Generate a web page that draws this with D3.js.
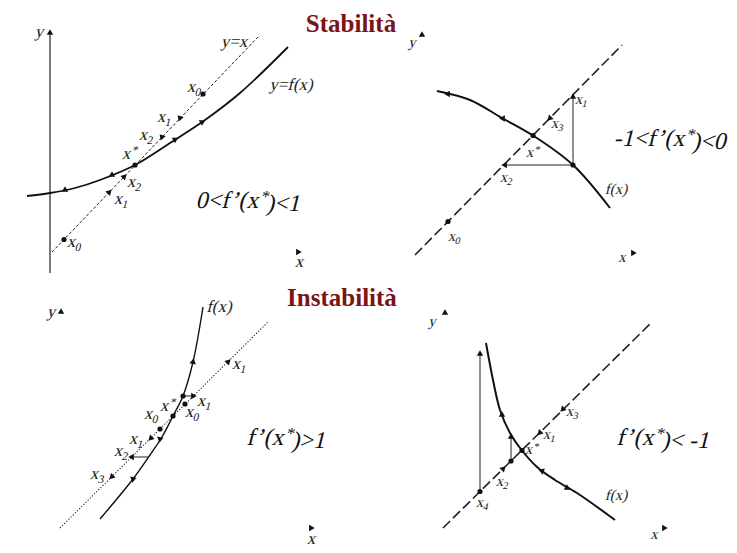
<!DOCTYPE html>
<html>
<head>
<meta charset="utf-8">
<script src="https://cdn.jsdelivr.net/npm/d3@7"></script>
<style>
  body { margin: 0; background: #fff; }
  text { font-family: "Liberation Serif", "Times New Roman", serif; }
</style>
</head>
<body>
<div class="canva"></div>
<script>
// panel data, units of 10px, v grows upward
// label rows: [u, v, text, sub, sup, tail]

// --- Stabilita, 0<f'<1 ---
const p1Curve = [[-2.3,6.6],[0,6.9],[2.5,7.4],[5,8.2],[8.5,9.7],[12,11.9],[15.5,14.2],[19,16.9],[23.8,21.5]];
const p1Diag = [[0.2,1.0],[20.8,22.5]];
const p1Axis = [[0,-1.1],[0,22.9]];
const p1Segs = [];
const p1Dots = [[8.5,9.7],[15.3,16.8],[1.4,2.25]];
const p1Arrows = [[13,14.4,250],[11.2,12.5,250],[15.2,14.0,270],[12.5,12.25,270],[5.9,6.95,46],[7.4,8.5,46],[1.5,7.2,90],[6.2,8.7,90],[0,22.9,90],[24.8,1.0,0]];
const p1Labels = [[18.5,21.9,"y=x"],[24.2,17.6,"y=f(x)"],[14.5,17.4,"x","0"],[11.5,14.4,"x","1"],[9.7,12.6,"x","2"],
  [8.0,10.7,"x","","*"],[8.5,7.9,"x","2"],[7.2,6.2,"x","1"],[2.5,1.9,"x","0"],[-1,22.9,"y"],[25,-0.1,"x"]];
const p1Formula = [20,6.2,"0<f’(x","","*",")<1"];

// --- Stabilita, -1<f'<0 ---
const p2Curve = [[2.7,17.1],[6,16.2],[9.2,14.4],[12.3,12.65],[16.3,9.7],[20,5.4]];
const p2Diag = [[0.5,0.7],[21.2,21.7]];
const p2Segs = [[[16.3,16.7],[16.3,9.7]],[[16.3,9.7],[9.4,9.7]]];
const p2Dots = [[12.3,12.65],[16.3,9.7],[3.8,4.05]];
const p2Arrows = [[16.3,16.5,90],[9.5,9.7,180],[14,14.4,225],[3.8,16.8,300],[9.3,14.35,300],[1.2,22.7,90],[22.3,0.9,0]];
const p2Labels = [[17.2,16.2,"x","1"],[14.8,13.8,"x","3"],[12.3,10.9,"x","","*"],[9.7,8.4,"x","2"],[4.5,2.5,"x","0"],
  [20.7,7.2,"f(x)"],[0.3,21.9,"y"],[21.3,0.4,"x"]];
const p2Formula = [26.2,12.4,"-1<f’(x","","*",")<0"];

// --- Instabilita, f'>1 ---
const p3Curve = [[5,2.1],[8.3,6.1],[10,8.5],[11.2,10.3],[12.3,12.4],[13.3,14.4],[14.3,17.8],[15.3,23.3]];
const p3Diag = [[1,1.2],[21.8,21.8]];
const p3Segs = [[[13.3,14.4],[14.3,14.4]],[[8.2,8.3],[9.9,8.3]]];
const p3Dots = [[12.3,12.4],[13.5,13.6],[11,11.1],[13.3,14.4]];
const p3Arrows = [[14.3,14.4,0],[17.8,17.8,45],[14.3,17.8,80],[11,10.1,260],[10.1,10.2,225],[6.2,6.35,225],[8.3,6.1,260],[8.2,8.3,180],[1.1,22.8,90],[26.1,1.2,0]];
const p3Labels = [[17,23.2,"f(x)"],[19,17.5,"x","1"],[15.5,13.8,"x","1"],[14.3,12.7,"x","0"],[11.8,13.3,"x","","*"],
  [10.2,12.5,"x","0"],[8.7,10,"x","1"],[7.2,8.8,"x","2"],[4.8,6.5,"x","3"],[0.2,22.7,"y"],[26.2,0,"x"]];
const p3Formula = [23.8,10.3,"f’(x","","*",")>1"];

// --- Instabilita, f'<-1 ---
const p4Curve = [[5.6,19.2],[6.3,15.5],[7,12.5],[8,10.2],[9.2,8.45],[10.7,6.8],[12.5,5.5],[14.7,4.2],[18.5,1.5]];
const p4Diag = [[1.3,0.7],[22.2,21.3]];
const p4Segs = [[[5,4.35],[5,18.3]],[[8.1,7.4],[8.1,10.0]]];
const p4Dots = [[9.2,8.45],[5,4.35],[8.1,7.4]];
const p4Arrows = [[5,18.1,90],[8.1,9.8,90],[7.3,6.6,45],[11,10.25,225],[13.3,12.6,225],[7.2,12.0,90],[11.2,6.4,160],[13.7,4.7,90],[1.5,22.2,90],[23.4,0.7,0]];
const p4Labels = [[10.2,8.5,"x","","*"],[12,10,"x","1"],[14.3,12.3,"x","3"],[7.3,5.3,"x","2"],[5.3,3.2,"x","4"],
  [18.7,3.9,"f(x)"],[0.3,21.3,"y"],[22.5,0,"x"]];
const p4Formula = [23.5,9.8,"f’(x","","*",")< -1"];

const titles = ["Stabilità","Instabilità"];

const svg = d3.select(".canva").append("svg")
  .attr("width", 737)
  .attr("height", 553);

svg.append("rect").attr("width", 737).attr("height", 553).attr("fill", "#fff");

// serif italic is faked with a skew, the serif italic face is not reliable
const slant = "skewX(-14)";

function drawPanel(ox, oy, d, st) {
  const sx = d3.scaleLinear().domain([0, 10]).range([ox, ox + 100]);
  const sy = d3.scaleLinear().domain([0, 10]).range([oy, oy - 100]);
  const g = svg.append("g");
  const line = d3.line().x(p => sx(p[0])).y(p => sy(p[1]));

  if (d.axis) {
    g.append("path").attr("d", line(d.axis))
      .attr("stroke", "#222").attr("stroke-width", 1.2).attr("fill", "none");
  }
  // diagonal y = x
  g.append("path").attr("d", line(d.diag))
    .attr("stroke", "#222").attr("fill", "none")
    .attr("stroke-width", st.diagW)
    .attr("stroke-dasharray", st.dash);

  // f(x)
  g.append("path").attr("d", line.curve(d3.curveCatmullRom)(d.curve))
    .attr("stroke", "#111").attr("fill", "none")
    .attr("stroke-width", st.curveW);
  line.curve(d3.curveLinear);

  g.selectAll(".seg").data(d.segs).enter().append("path")
    .attr("d", s => line(s))
    .attr("stroke", "#222").attr("stroke-width", 1).attr("fill", "none");

  g.selectAll(".dot").data(d.dots).enter().append("circle")
    .attr("cx", p => sx(p[0])).attr("cy", p => sy(p[1]))
    .attr("r", 2.6).attr("fill", "#111");

  const tri = d3.symbol().type(d3.symbolTriangle).size(18);
  g.selectAll(".arr").data(d.arrows).enter().append("path")
    .attr("d", tri)
    .attr("fill", "#111")
    .attr("transform", a => `translate(${sx(a[0])},${sy(a[1])}) rotate(${90 - a[2]})`);

  const lab = g.selectAll(".lab").data(d.labels).enter().append("text")
    .attr("transform", l => `translate(${sx(l[0])},${sy(l[1])}) ${slant}`)
    .attr("dy", "0.25em")
    .attr("text-anchor", "middle")
    .attr("font-size", st.labSize)
    .attr("fill", "#222");
  addParts(lab);

  const f = d.formula;
  const ft = g.append("text").datum(f)
    .attr("transform", `translate(${sx(f[0])},${sy(f[1])}) ${slant}`)
    .attr("dy", "0.35em")
    .attr("text-anchor", "middle")
    .attr("font-size", 24)
    .attr("fill", "#111");
  addParts(ft);
}

// text, subscript, superscript and what follows
function addParts(sel) {
  sel.each(function(l) {
    const t = d3.select(this);
    t.append("tspan").text(l[2]);
    if (l[3]) t.append("tspan").attr("dy", "0.3em").attr("font-size", "0.68em").text(l[3]);
    if (l[4]) t.append("tspan").attr("dy", "-0.4em").attr("font-size", "0.7em").text(l[4]);
    if (l[5]) t.append("tspan").attr("dy", "0.4em").text(l[5]);
  });
}

drawPanel(50, 262, {curve: p1Curve, diag: p1Diag, axis: p1Axis, segs: p1Segs, dots: p1Dots, arrows: p1Arrows, labels: p1Labels, formula: p1Formula},
  {diagW: 1, dash: "3,2", curveW: 1.8, labSize: 17});
drawPanel(410, 262, {curve: p2Curve, diag: p2Diag, segs: p2Segs, dots: p2Dots, arrows: p2Arrows, labels: p2Labels, formula: p2Formula},
  {diagW: 1.6, dash: "10,4", curveW: 2, labSize: 15});
drawPanel(50, 540, {curve: p3Curve, diag: p3Diag, segs: p3Segs, dots: p3Dots, arrows: p3Arrows, labels: p3Labels, formula: p3Formula},
  {diagW: 1.1, dash: "1.2,1.8", curveW: 1.4, labSize: 17});
drawPanel(430, 535, {curve: p4Curve, diag: p4Diag, segs: p4Segs, dots: p4Dots, arrows: p4Arrows, labels: p4Labels, formula: p4Formula},
  {diagW: 1.6, dash: "10,4", curveW: 2, labSize: 15});

// titles
svg.selectAll(".title").data(titles).enter().append("text")
  .attr("x", (d, i) => i ? 342 : 351)
  .attr("y", (d, i) => i ? 306 : 32)
  .attr("text-anchor", "middle")
  .attr("font-weight", "bold")
  .attr("font-size", 25)
  .attr("fill", "#7b1416")
  .text(d => d);
</script>
</body>
</html>
